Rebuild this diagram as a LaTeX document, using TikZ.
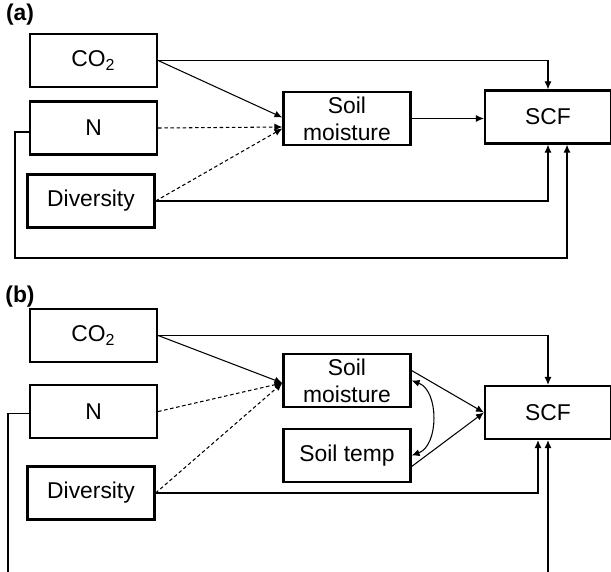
\documentclass[tikz,border=0pt]{standalone}
\usepackage{fontspec}
\setmainfont{Liberation Sans}
\usetikzlibrary{arrows.meta}

\begin{document}
\begin{tikzpicture}[x=0.02cm,y=-0.02cm,
  box/.style={draw,line width=1.3pt,minimum width=2.54cm,minimum height=1.06cm,inner sep=1pt,align=center,font=\fontsize{13}{15.3}\selectfont},
  arr/.style={line width=0.6pt,-{Latex[length=4.5pt,width=4pt]}},
  dsh/.style={arr,dash pattern=on 2pt off 1.5pt},
  lab/.style={font=\bfseries\fontsize{13}{14}\selectfont}]
\useasboundingbox (0,0) rectangle (611,571);
% panel (a)
\node[lab] (laba) at (20,15) {(a)};
\node[box] (co2a) at (93.5,60.5) {CO\textsubscript{2}};
\node[box] (na) at (93.5,128) {N};
\node[box] (diva) at (91,201) {Diversity};
\node[box] (sma) at (347,118.5) {Soil\\moisture};
\node[box,minimum width=2.52cm] (scfa) at (548,117) {SCF};
\coordinate (na1) at (15,258);
\draw[arr] (co2a.east) -| (scfa.north);
\draw[arr] (co2a.east) -- ([yshift=0.02cm]sma.west);
\draw[dsh] (na.east) -- ([yshift=-0.17cm]sma.west);
\draw[dsh] (diva.east) -- ([yshift=-0.2cm]sma.west);
\draw[arr] (sma.east) -- (sma.east -| scfa.west);
\draw[arr] (diva.east) -| (scfa.south);
\draw[arr] ([yshift=-0.08cm]na.west) -| (na1) -| ([xshift=0.38cm]scfa.south);
% panel (b)
\node[lab] (labb) at (20,297) {(b)};
\node[box] (co2b) at (93.5,335.5) {CO\textsubscript{2}};
\node[box] (nb) at (93.5,411.5) {N};
\node[box] (divb) at (91,493) {Diversity};
\node[box] (smb) at (347,380.5) {Soil\\moisture};
\node[box] (stb) at (347,455.5) {Soil temp};
\node[box,minimum width=2.52cm] (scfb) at (548,412.5) {SCF};
\coordinate (nb1) at (8,590);
\draw[arr] (co2b.east) -| (scfb.north);
\draw[arr] (co2b.east) -- ([yshift=-0.05cm]smb.west);
\draw[dsh] (nb.east) -- ([yshift=-0.05cm]smb.west);
\draw[dsh] (divb.east) -- ([yshift=-0.05cm]smb.west);
\draw[arr] ([yshift=0.2cm]smb.east) -- (scfb.west);
\draw[arr] ([yshift=-0.22cm]stb.east) -- (scfb.west);
\draw[arr,{Latex[length=4.5pt,width=4pt]}-{Latex[length=4.5pt,width=4pt]}] (smb.east) to[bend left=70] (stb.east);
\draw[arr] (divb.east) -| ([xshift=-0.2cm]scfb.south);
\draw[arr] ([yshift=-0.04cm]nb.west) -| (nb1) -| (scfb.south);
\end{tikzpicture}
\end{document}
